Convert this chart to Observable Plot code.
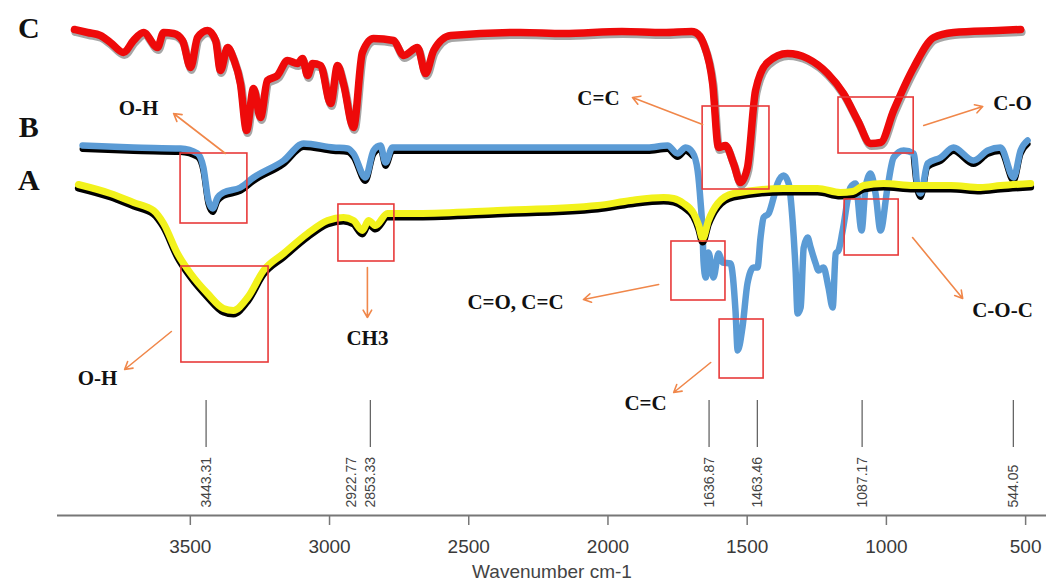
<!DOCTYPE html>
<html><head><meta charset="utf-8">
<script src="https://cdn.jsdelivr.net/npm/d3@7"></script>
<script src="https://cdn.jsdelivr.net/npm/@observablehq/plot@0.6"></script>
<style>body{margin:0;background:#fff}#chart svg{display:block}</style>
</head><body><div id="chart"></div>
<script>
// ---- Data (wavenumber in cm-1, offset transmittance in arbitrary units) ----
const cWave = [3916,3869,3823,3787,3740,3704,3668,3618,3596,3560,3528,3499,3474,3438,3409,3392,3366,3345,3320,3298,3273,3248,3223,3187,3151,3115,3097,3079,3061,3032,2996,2971,2950,2914,2882,2842,2770,2734,2684,2655,2626,2565,2314,2159,1950,1800,1700,1685,1657,1624,1603,1578,1549,1524,1499,1470,1427,1355,1283,1211,1154,1103,1057,1021,974,902,830,759,600,518];
const cVal  = [97.2,96.6,96.0,94.6,92.6,95.0,96.6,93.6,96.6,96.4,95.0,89.6,95.6,97.0,95.0,89.0,93.6,91.4,86.4,77.0,85.4,79.6,87.0,88.0,91.0,90.4,91.4,88.0,90.4,90.0,82.4,90.0,86.4,77.6,92.6,95.4,95.0,92.0,93.6,88.4,93.0,96.0,96.6,96.4,96.8,96.6,96.8,96.6,94.4,86.4,73.6,74.0,70.4,66.6,69.6,85.0,90.6,92.4,91.4,88.4,84.4,79.0,74.4,74.6,81.0,89.6,95.6,96.6,97.0,97.2];

const bWave = [3887,3704,3535,3474,3453,3435,3420,3402,3381,3320,3273,3165,3093,2986,2935,2914,2871,2842,2817,2799,2774,2637,2278,1858,1786,1750,1721,1696,1678,1667,1660,1657,1649,1639,1621,1603,1588,1560,1542,1534,1517,1499,1477,1463,1452,1441,1423,1405,1391,1369,1351,1337,1326,1319,1308,1297,1283,1272,1254,1244,1226,1208,1193,1182,1172,1157,1129,1111,1089,1075,1057,1039,1021,996,974,938,902,888,877,852,805,759,687,636,590,543,518,493];
const bVal  = [74.0,73.6,73.4,72.4,69.6,63.0,61.4,63.6,64.6,65.6,67.6,71.0,74.4,73.6,73.4,72.4,67.6,73.0,74.0,70.6,73.6,73.6,73.6,73.6,74.0,72.4,73.6,72.6,69.0,62.4,56.4,51.0,47.6,52.6,47.6,52.4,50.6,50.4,41.0,33.0,37.6,46.4,49.6,49.6,55.6,59.6,60.4,63.6,66.4,68.0,66.4,59.0,49.0,40.4,41.6,53.6,55.6,53.6,50.4,49.0,49.6,45.6,41.6,52.4,53.0,57.0,65.6,66.4,57.0,65.6,68.4,64.4,57.0,65.6,71.6,73.0,72.4,65.6,64.4,70.4,71.6,73.6,71.0,73.0,73.6,67.6,73.0,75.0];

const aWave = [3902,3787,3704,3632,3596,3546,3499,3438,3381,3345,3294,3237,3165,3079,3007,2950,2914,2882,2860,2835,2792,2684,2397,2037,1919,1800,1764,1728,1692,1674,1660,1639,1606,1549,1369,1247,1165,1121,1082,1010,902,769,662,590,482];
const aVal  = [66.2,64.4,62.6,61.0,58.4,52.4,48.4,44.4,41.4,41.0,43.6,49.0,52.4,56.4,59.0,59.6,59.0,57.0,59.0,58.0,60.4,60.4,61.0,62.0,63.0,63.6,63.4,62.4,60.4,58.0,55.4,59.0,62.4,64.4,65.4,65.4,64.6,64.8,66.0,66.4,66.0,66.0,65.6,66.0,66.4];

const tickValues = [3500, 3000, 2500, 2000, 1500, 1000, 500];
const peakLabels = ["3443.31", "2922.77", "2853.33", "1636.87", "1463.46", "1087.17", "544.05"];
const peakLineWave = [3443.31, 2853.33, 1636.87, 1463.46, 1087.17, 544.05];
const xTitle = "Wavenumber cm-1";

const sampleNames = ["C", "B", "A"];
const sampleVal = [97.4, 77.6, 67.0];

const labelText = ["O-H", "C=C", "C-O", "O-H", "CH3", "C=O, C=C", "C=C", "C-O-C"];
const labelWave = [3686, 2034, 547, 3833, 2864, 2332, 1865, 583];
const labelVal  = [81.4, 83.4, 82.4, 27.4, 35.4, 42.6, 22.4, 41.0];

const boxWave1 = [3535, 3532, 2968, 1660, 1172, 1772, 1599, 1150];
const boxWave2 = [3295, 3219, 2767, 1420, 902, 1578, 1441, 956];
const boxVal1  = [72.4, 49.8, 62.2, 81.8, 83.6, 54.8, 39.2, 63.2];
const boxVal2  = [58.4, 30.6, 50.8, 65.2, 72.4, 43.0, 27.4, 52.0];

const arrowWave1 = [3374, 1660, 866, 3568, 2864, 1818, 1631, 906];
const arrowVal1  = [72.4, 78.2, 78.0, 36.8, 49.6, 46.2, 30.6, 55.6];
const arrowWave2 = [3560, 1912, 654, 3736, 2864, 2088, 1764, 726];
const arrowVal2  = [80.4, 83.6, 81.8, 29.2, 39.6, 43.2, 24.6, 43.4];

// ---- Build tables ----
const rows = (w, v) => w.map((x, i) => ({w: x, v: v[i]}));
const C = rows(cWave, cVal), B = rows(bWave, bVal), A = rows(aWave, aVal);
const samples = sampleNames.map((s, i) => ({s, w: 4080, v: sampleVal[i]}));
const labels = labelText.map((t, i) => ({t, w: labelWave[i], v: labelVal[i]}));
const boxes = boxWave1.map((w1, i) => ({w1, w2: boxWave2[i], v1: boxVal1[i], v2: boxVal2[i]}));
const arrows = arrowWave1.map((w1, i) => ({w1, w2: arrowWave2[i], v1: arrowVal1[i], v2: arrowVal2[i]}));
const bShadowY = d => (d.w >= 1690 || d.w <= 905) ? d.v : NaN;

const serif = "'Liberation Serif', 'Times New Roman', serif";
const chart = Plot.plot({
  width: 1046, height: 586,
  marginLeft: 57, marginRight: 0, marginTop: 0, marginBottom: 71,
  x: {domain: [3977, 425]},
  y: {domain: [0, 103], axis: null},
  style: {fontFamily: "'Liberation Sans', Arial, sans-serif", background: "#fff", overflow: "visible"},
  marks: [
    Plot.ruleY([0], {stroke: "#777", strokeWidth: 2}),
    Plot.axisX(tickValues, {tickSize: 10, tickPadding: 14, stroke: "#777", strokeWidth: 1.5, fill: "#3a3a3a", fontSize: 19, tickFormat: d => String(d), label: null}),
    Plot.text([xTitle], {frameAnchor: "bottom", dy: 62, fontSize: 19, fill: "#444"}),
    Plot.ruleX(peakLineWave, {y1: 13.6, y2: 23.0, stroke: "#666", strokeWidth: 1.3}),
    Plot.text(peakLabels, {x: d => +d, y: 1.6, text: d => d, rotate: -90, textAnchor: "start", fontSize: 14, fill: "#444"}),
    // B (blue)
    Plot.line(B, {x: "w", y: bShadowY, stroke: "#000", strokeWidth: 6, dy: 3.5, curve: "monotone-x"}),
    Plot.line(B, {x: "w", y: "v", stroke: "#5b9bd5", strokeWidth: 6.5, strokeLinejoin: "round", strokeLinecap: "round", curve: "monotone-x"}),
    // A (yellow)
    Plot.line(A, {x: "w", y: "v", stroke: "#000", strokeWidth: 7, dy: 3.5, curve: "monotone-x"}),
    Plot.line(A, {x: "w", y: "v", stroke: "#f2f21c", strokeWidth: 7, strokeLinecap: "round", curve: "monotone-x"}),
    // C (red)
    Plot.line(C, {x: "w", y: "v", stroke: "#000", strokeOpacity: 0.35, strokeWidth: 8, dy: 2.5, dx: 1, curve: "monotone-x"}),
    Plot.line(C, {x: "w", y: "v", stroke: "#ee0a0a", strokeWidth: 7.5, strokeLinejoin: "round", strokeLinecap: "round", curve: "monotone-x"}),
    // annotations
    Plot.rect(boxes, {x1: "w1", x2: "w2", y1: "v1", y2: "v2", fill: "none", stroke: "#e83a3a", strokeWidth: 1.6}),
    Plot.arrow(arrows, {x1: "w1", y1: "v1", x2: "w2", y2: "v2", stroke: "#f0874a", strokeWidth: 1.6, headLength: 8}),
    Plot.text(labels, {x: "w", y: "v", text: "t", fontFamily: serif, fontWeight: "bold", fontSize: 21, fill: "#111"}),
    Plot.text(samples, {x: "w", y: "v", text: "s", fontFamily: serif, fontWeight: "bold", fontSize: 30, fill: "#111"})
  ]
});
document.getElementById("chart").append(chart);
</script>
</body></html>
